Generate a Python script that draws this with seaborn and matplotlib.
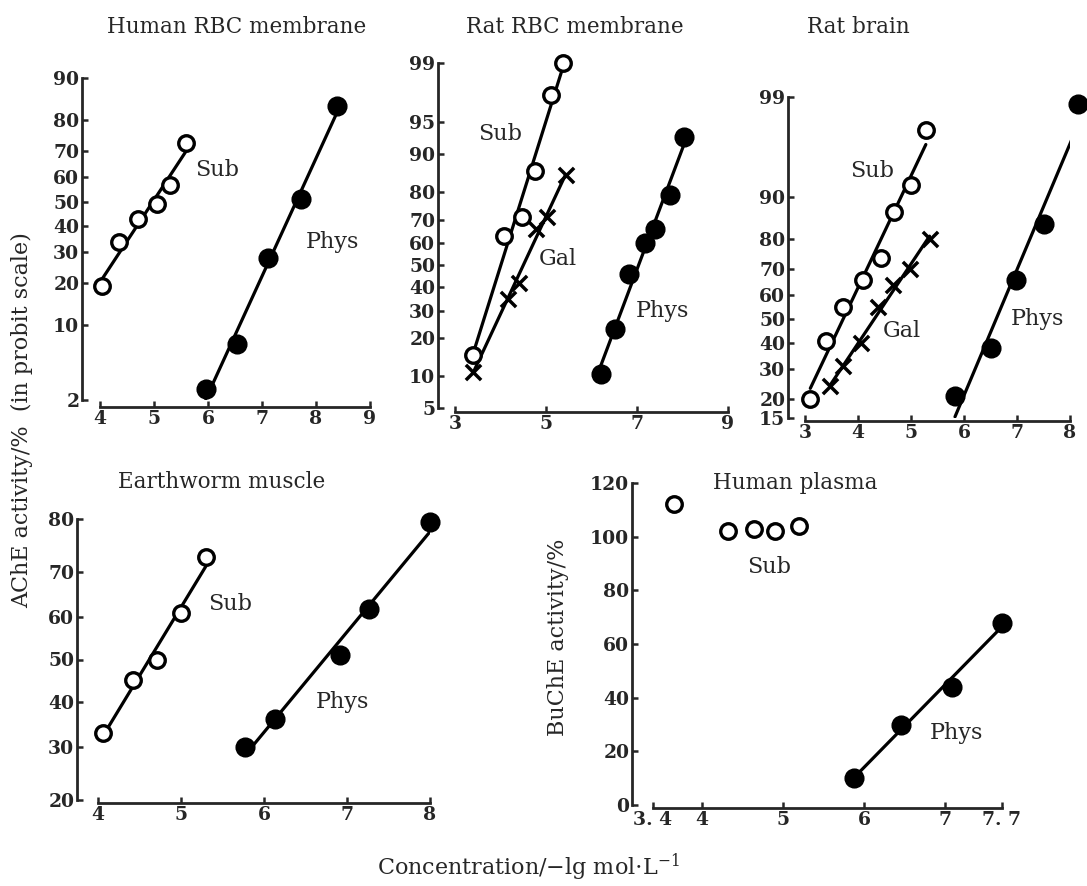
from statistics import NormalDist

import numpy as np
import matplotlib
matplotlib.use('Agg')
import matplotlib.pyplot as plt
import seaborn as sns

W, H = 1087, 886

# ---- data ----
# Human RBC membrane (probit %)
hrbc_sub_x = [4.04, 4.36, 4.70, 5.05, 5.30, 5.60]
hrbc_sub_y = [19, 34, 43, 49, 57, 73]
hrbc_phys_x = [5.96, 6.53, 7.12, 7.72, 8.39]
hrbc_phys_y = [2.6, 7, 28, 51, 84]

# Rat RBC membrane
rrbc_sub_x = [3.39, 4.08, 4.47, 4.75, 5.11, 5.37]
rrbc_sub_y = [15, 63, 71, 86, 97.5, 99]
rrbc_gal_x = [3.39, 4.17, 4.40, 4.77, 5.02, 5.43]
rrbc_gal_y = [11, 35, 42, 66, 71, 85]
rrbc_phys_x = [6.20, 6.51, 6.83, 7.17, 7.39, 7.73, 8.03]
rrbc_phys_y = [10.5, 23, 46, 60, 66, 79, 93]

# Rat brain
brain_sub_x = [3.10, 3.40, 3.72, 4.10, 4.43, 4.67, 5.00, 5.28]
brain_sub_y = [20, 41, 55, 66, 74, 87, 92, 97.6]
brain_gal_x = [3.47, 3.72, 4.06, 4.38, 4.66, 4.98, 5.35]
brain_gal_y = [24, 31, 40, 55, 64, 70, 80]
brain_phys_x = [5.83, 6.51, 6.98, 7.50, 8.15]
brain_phys_y = [21, 38, 66, 84, 98.8]

# Earthworm muscle
worm_sub_x = [4.06, 4.42, 4.71, 5.00, 5.30]
worm_sub_y = [33, 45, 50, 61, 73]
worm_phys_x = [5.77, 6.13, 6.91, 7.27, 8.00]
worm_phys_y = [30, 36, 51, 62, 79.5]

# Human plasma (linear %)
plasma_sub_x = [3.66, 4.33, 4.64, 4.90, 5.20]
plasma_sub_y = [112, 102, 103, 102, 104]
plasma_phys_x = [5.88, 6.45, 7.08, 7.70]
plasma_phys_y = [10, 30, 44, 68]

# tick labels
hrbc_yticks = [2, 10, 20, 30, 40, 50, 60, 70, 80, 90]
hrbc_xticks = [4, 5, 6, 7, 8, 9]
rrbc_yticks = [5, 10, 20, 30, 40, 50, 60, 70, 80, 90, 95, 99]
rrbc_xticks = [3, 5, 7, 9]
brain_yticks = [15, 20, 30, 40, 50, 60, 70, 80, 90, 99]
brain_xticks = [3, 4, 5, 6, 7, 8]
worm_yticks = [20, 30, 40, 50, 60, 70, 80]
worm_xticks = [4, 5, 6, 7, 8]
plasma_yticks = [0, 20, 40, 60, 80, 100, 120]
plasma_xticks = [3.4, 4, 5, 6, 7, 7.7]
plasma_xlabels = ['3. 4', '4', '5', '6', '7', '7. 7']

ND = NormalDist()


def probit(p):
    p = np.clip(np.asarray(p, dtype=float) / 100.0, 1e-6, 1 - 1e-6)
    return np.vectorize(ND.inv_cdf, otypes=[float])(p)


def inv_probit(z):
    z = np.asarray(z, dtype=float)
    return np.vectorize(ND.cdf, otypes=[float])(z) * 100.0


sns.set_style('ticks')
plt.rcParams['font.family'] = ['DejaVu Serif']
plt.rcParams['mathtext.fontset'] = 'dejavuserif'

fig = plt.figure(figsize=(W / 100, H / 100), dpi=100)


def make_axes(x0, x1, y0, y1, yoff, xoff):
    # pixel box of the data area, spines offset like the print
    ax = fig.add_axes([x0 / W, 1 - y1 / H, (x1 - x0) / W, (y1 - y0) / H])
    sns.despine(ax=ax)
    ax.spines['left'].set_position(('outward', yoff * 0.72))
    ax.spines['bottom'].set_position(('outward', xoff * 0.72))
    for s in ['left', 'bottom']:
        ax.spines[s].set_linewidth(2.0)
    ax.tick_params(direction='in', length=4, width=1.8, labelsize=13.5, pad=2)
    ax.set_facecolor('none')
    return ax


def draw(ax, x, y, kind, probit_scale=True, fit=True):
    x = np.asarray(x, dtype=float)
    y = np.asarray(y, dtype=float)
    if fit:
        t = probit(y) if probit_scale else y
        k, b = np.polyfit(x, t, 1)
        xs = np.array([x.min(), x.max()])
        ts = k * xs + b
        ys = inv_probit(ts) if probit_scale else ts
        sns.lineplot(x=xs, y=ys, ax=ax, color='black', lw=2.3, zorder=2)
    if kind == 'open':
        sns.scatterplot(x=x, y=y, ax=ax, marker='o', s=125, facecolor='white',
                        edgecolor='black', linewidth=2.4, zorder=3, clip_on=False)
    elif kind == 'filled':
        sns.scatterplot(x=x, y=y, ax=ax, marker='o', s=180, color='black',
                        edgecolor='black', zorder=3, clip_on=False)
    else:
        sns.scatterplot(x=x, y=y, ax=ax, marker='x', s=120, color='black',
                        linewidth=2.5, zorder=3, clip_on=False)


def set_probit(ax, lo, hi, yticks, xlo, xhi, xticks, xlabels=None):
    ax.set_yscale('function', functions=(probit, inv_probit))
    ax.set_ylim(lo, hi)
    ax.set_yticks(yticks)
    ax.set_yticklabels([str(v) for v in yticks], fontweight='bold')
    ax.yaxis.set_minor_locator(matplotlib.ticker.NullLocator())
    ax.set_xlim(xlo, xhi)
    ax.set_xticks(xticks)
    ax.set_xticklabels(xlabels or [str(v) for v in xticks], fontweight='bold')


def label(ax, x, y, s):
    ax.text(x, y, s, fontsize=16, ha='center', va='center')


# Human RBC membrane
ax1 = make_axes(100, 370, 78, 400, 18, 7)
set_probit(ax1, 2, 90, hrbc_yticks, 4, 9, hrbc_xticks)
draw(ax1, hrbc_sub_x, hrbc_sub_y, 'open')
draw(ax1, hrbc_phys_x, hrbc_phys_y, 'filled')
label(ax1, 6.17, 63, 'Sub')
label(ax1, 8.31, 34, 'Phys')

# Rat RBC membrane
ax2 = make_axes(455, 728, 63, 408, 17, 4)
set_probit(ax2, 5, 99, rrbc_yticks, 3, 9, rrbc_xticks)
draw(ax2, rrbc_sub_x, rrbc_sub_y, 'open')
draw(ax2, rrbc_gal_x, rrbc_gal_y, 'cross')
draw(ax2, rrbc_phys_x, rrbc_phys_y, 'filled')
label(ax2, 3.99, 93.5, 'Sub')
label(ax2, 5.26, 53, 'Gal')
label(ax2, 7.57, 30, 'Phys')

# Rat brain
ax3 = make_axes(805, 1070, 97, 418, 17, 3)
set_probit(ax3, 15, 99, brain_yticks, 3, 8, brain_xticks)
draw(ax3, brain_sub_x, brain_sub_y, 'open')
draw(ax3, brain_gal_x, brain_gal_y, 'cross')
draw(ax3, brain_phys_x, brain_phys_y, 'filled')
label(ax3, 4.26, 94, 'Sub')
label(ax3, 4.83, 45, 'Gal')
label(ax3, 7.38, 50, 'Phys')

# Earthworm muscle
ax4 = make_axes(98, 430, 519, 800, 21, 3)
set_probit(ax4, 20, 80, worm_yticks, 4, 8, worm_xticks)
draw(ax4, worm_sub_x, worm_sub_y, 'open')
draw(ax4, worm_phys_x, worm_phys_y, 'filled')
label(ax4, 5.59, 63, 'Sub')
label(ax4, 6.95, 40, 'Phys')

# Human plasma (linear)
ax5 = make_axes(653, 1002, 483, 805, 21, 3)
ax5.set_ylim(0, 120)
ax5.set_yticks(plasma_yticks)
ax5.set_yticklabels([str(v) for v in plasma_yticks], fontweight='bold')
ax5.set_xlim(3.4, 7.7)
ax5.set_xticks(plasma_xticks)
ax5.set_xticklabels(plasma_xlabels, fontweight='bold')
draw(ax5, plasma_sub_x, plasma_sub_y, 'open', probit_scale=False, fit=False)
draw(ax5, plasma_phys_x, plasma_phys_y, 'filled', probit_scale=False)
label(ax5, 4.83, 88.7, 'Sub')
label(ax5, 7.14, 27, 'Phys')

# panel titles
for tx, ty, s in [(237, 27, 'Human RBC membrane'), (575, 27, 'Rat RBC membrane'),
                  (858, 27, 'Rat brain'), (222, 482, 'Earthworm muscle'),
                  (795, 483, 'Human plasma')]:
    fig.text(tx / W, 1 - ty / H, s, fontsize=15.5, ha='center', va='center')

fig.text(22 / W, 1 - 420 / H, 'AChE activity/%  (in probit scale)', fontsize=16,
         rotation=90, ha='center', va='center')
fig.text(558 / W, 1 - 637 / H, 'BuChE activity/%', fontsize=16,
         rotation=90, ha='center', va='center')
fig.text(528 / W, 1 - 867 / H, 'Concentration/$-$lg mol$\\cdot$L$^{-1}$', fontsize=16,
         ha='center', va='center')

fig.savefig('out.png', dpi=100, facecolor='white')
